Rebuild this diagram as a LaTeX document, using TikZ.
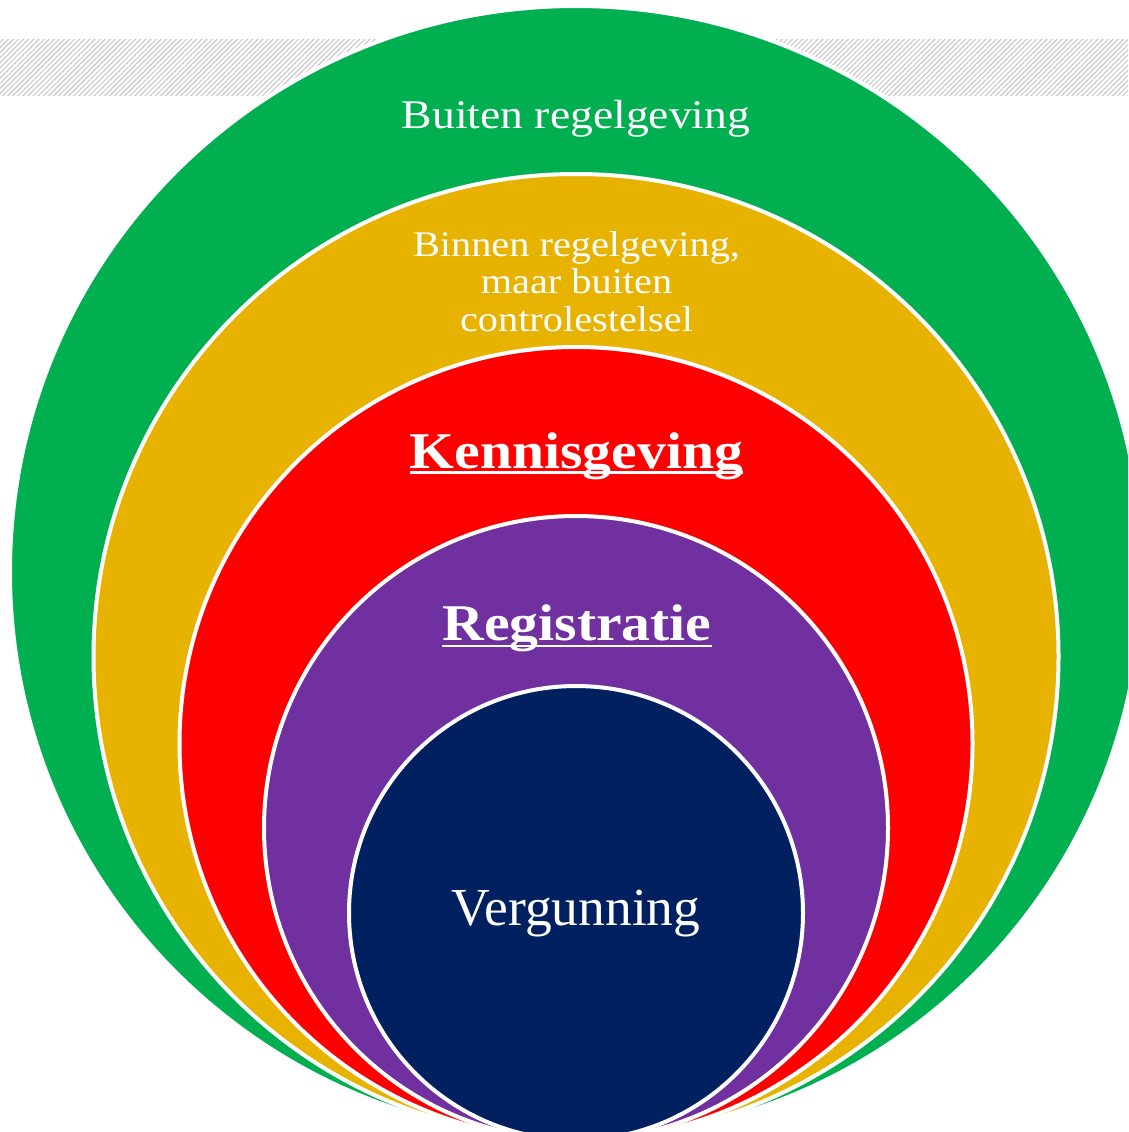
\documentclass[tikz,border=0pt]{standalone}
\usepackage{fontspec}
\setmainfont{Liberation Serif}
\newfontfamily\geo{Liberation Serif}[FakeStretch=1.12]
\usetikzlibrary{patterns.meta}
\definecolor{cgreen}{HTML}{00B050}
\definecolor{cgold}{HTML}{E8B200}
\definecolor{cred}{HTML}{FF0000}
\definecolor{cpurple}{HTML}{7030A0}
\definecolor{cnavy}{HTML}{002060}
\definecolor{chatch}{HTML}{C4C4C4}
\begin{document}
\begin{tikzpicture}[x=1pt,y=-1pt,
  ring/.style={draw=white,line width=4pt},
  lbl/.style={text=white,inner sep=0pt,anchor=base},
  uline/.style={white,line width=2.5pt}]
\useasboundingbox (0,0) rectangle (1128,1132);
\clip (0,0) rectangle (1128,1132);
% hatched band
\path[pattern={Lines[angle=45,distance=3.6pt,line width=1pt]},pattern color=chatch] (0,40) rectangle (1128,95);
% rings
\path[ring,fill=cgreen]  (576,572)   circle[radius=566];
\path[ring,fill=cgold]   (576,656.5) circle[radius=482.5];
\path[ring,fill=cred]    (576,743.5) circle[radius=396.5];
\path[ring,fill=cpurple] (576,828)   circle[radius=312];
\path[ring,fill=cnavy]   (576,913)   circle[radius=227];
% labels
\node[lbl,font=\geo\fontsize{40.7}{44}\selectfont] (buiten) at (576,128) {Buiten regelgeving};
\node[lbl,font=\geo\fontsize{36}{38}\selectfont] (binnen1) at (576.5,256) {Binnen regelgeving,};
\node[lbl,font=\geo\fontsize{36}{38}\selectfont] (binnen2) at (576.5,293.5) {maar buiten};
\node[lbl,font=\geo\fontsize{36}{38}\selectfont] (binnen3) at (576.5,331) {controlestelsel};
\node[lbl,font=\geo\bfseries\fontsize{51.5}{54}\selectfont] (kenn) at (576.5,468) {Kennisgeving};
\node[lbl,font=\geo\bfseries\fontsize{51.5}{54}\selectfont] (regi) at (577,640) {Registratie};
\node[lbl,font=\fontsize{53.5}{56}\selectfont] (verg) at (576,925) {Vergunning};
\draw[uline] ([yshift=-4.5pt]kenn.base west) -- ([yshift=-4.5pt]kenn.base east);
\draw[uline] ([yshift=-6pt]regi.base west) -- ([yshift=-6pt]regi.base east);
\end{tikzpicture}
\end{document}
